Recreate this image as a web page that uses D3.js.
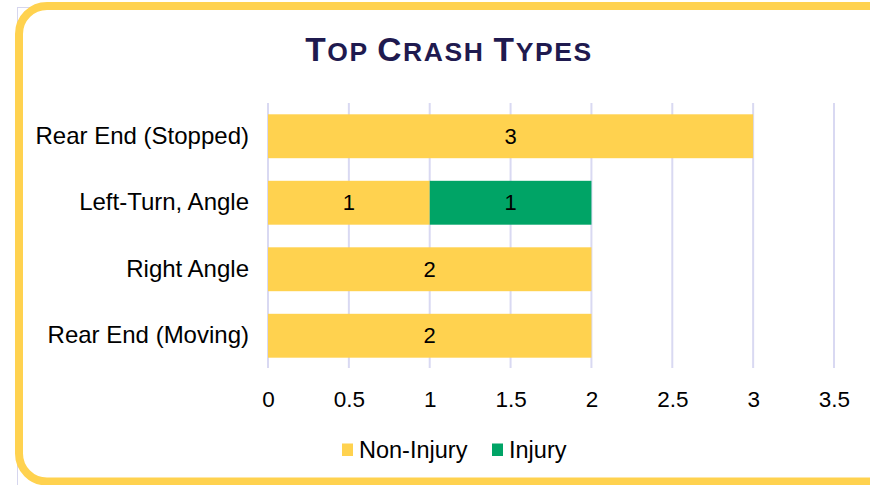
<!DOCTYPE html>
<html>
<head>
<meta charset="utf-8">
<script src="https://cdn.jsdelivr.net/npm/d3@7"></script>
<style>
  html, body { margin: 0; padding: 0; background: #fff; }
  svg { display: block; }
  text { font-family: "Liberation Sans", Arial, sans-serif; }
</style>
</head>
<body>
<svg id="chart" width="870" height="485"></svg>
<script>
// Crash counts by type, split by severity
const categories = ["Rear End (Stopped)", "Left-Turn, Angle", "Right Angle", "Rear End (Moving)"];
const nonInjury = [3, 1, 2, 2];
const injury = [0, 1, 0, 0];
const seriesNames = ["Non-Injury", "Injury"];
const tickValues = [0, 0.5, 1, 1.5, 2, 2.5, 3, 3.5];

const colors = { "Non-Injury": "#FFD24F", "Injury": "#00A466" };

const svg = d3.select("#chart");

// Outer chart-area outline and the rounded yellow frame
svg.append("rect")
  .attr("x", 17.5).attr("y", 7.5).attr("width", 900).attr("height", 500)
  .attr("fill", "none").attr("stroke", "#D6D6EE").attr("stroke-width", 1);
svg.append("rect")
  .attr("x", 19).attr("y", 6).attr("width", 880).attr("height", 475.5)
  .attr("rx", 28).attr("ry", 28)
  .attr("fill", "#fff").attr("stroke", "#FFD24F").attr("stroke-width", 8);

// Title in small caps
const title = svg.append("text")
  .attr("x", 449).attr("y", 61)
  .attr("text-anchor", "middle")
  .attr("fill", "#1F1A4F")
  .attr("font-weight", "bold")
  .attr("letter-spacing", 1.6);
[["T", 33.5], ["OP ", 26.5], ["C", 33.5], ["RASH ", 26.5], ["T", 33.5], ["YPES", 26.5]]
  .forEach(([t, s]) => title.append("tspan").attr("font-size", s).text(t));

const x = d3.scaleLinear().domain([0, 3.5]).range([268, 834]);
const y = d3.scaleBand().domain(categories).range([103, 369]).paddingInner(0.34).paddingOuter(0.17);

// Vertical gridlines
svg.append("g").selectAll("line").data(tickValues).join("line")
  .attr("x1", d => x(d)).attr("x2", d => x(d))
  .attr("y1", 103).attr("y2", 368)
  .attr("stroke", "#D9D9F2").attr("stroke-width", 2);

// Stacked bars
const rows = categories.map((c, i) => ({ category: c, "Non-Injury": nonInjury[i], "Injury": injury[i] }));
const stacked = d3.stack().keys(seriesNames)(rows);

const layers = svg.append("g").selectAll("g").data(stacked).join("g")
  .attr("fill", d => colors[d.key]);
layers.selectAll("rect").data(d => d).join("rect")
  .attr("x", d => x(d[0]))
  .attr("y", d => y(d.data.category))
  .attr("width", d => x(d[1]) - x(d[0]))
  .attr("height", y.bandwidth());

// Value labels centred in each non-empty segment
layers.selectAll("text").data(d => d.filter(s => s[1] - s[0] > 0)).join("text")
  .attr("x", d => (x(d[0]) + x(d[1])) / 2)
  .attr("y", d => y(d.data.category) + y.bandwidth() / 2)
  .attr("dy", "0.35em")
  .attr("text-anchor", "middle")
  .attr("fill", "#000")
  .attr("font-size", 22)
  .text(d => d[1] - d[0]);

// Category axis
const yAxis = svg.append("g").attr("transform", "translate(268,0)")
  .call(d3.axisLeft(y).tickSize(0).tickPadding(19));
yAxis.select(".domain").remove();
yAxis.selectAll("text").attr("font-size", 24).attr("fill", "#000")
  .attr("font-family", "'Liberation Sans', Arial, sans-serif");

// Value axis
const xAxis = svg.append("g").attr("transform", "translate(0,368)")
  .call(d3.axisBottom(x).tickValues(tickValues).tickSize(0).tickPadding(23).tickFormat(d3.format("~g")));
xAxis.select(".domain").remove();
xAxis.selectAll("text").attr("font-size", 22.5).attr("fill", "#000")
  .attr("font-family", "'Liberation Sans', Arial, sans-serif");

// Legend
const legend = svg.append("g");
const legendItems = [
  { key: "Non-Injury", x: 342 },
  { key: "Injury", x: 492 }
];
legendItems.forEach(item => {
  legend.append("rect")
    .attr("x", item.x).attr("y", 443.5).attr("width", 11).attr("height", 12.5)
    .attr("fill", colors[item.key]);
  legend.append("text")
    .attr("x", item.x + 17).attr("y", 457.5)
    .attr("font-size", 23.5).attr("fill", "#000")
    .text(item.key);
});
</script>
</body>
</html>
